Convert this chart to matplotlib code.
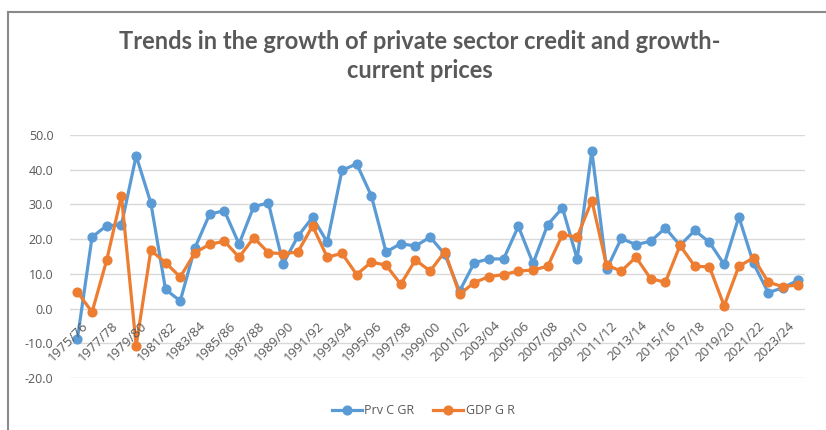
import matplotlib
matplotlib.use("Agg")
import matplotlib.pyplot as plt
from matplotlib.lines import Line2D

years = [f"{y}/{(y + 1) % 100:02d}" for y in range(1975, 2025)]

prv_c_gr = [-8.8, 20.6, 23.9, 24.1, 44.0, 30.4, 5.5, 2.2, 17.5, 27.2,
            28.2, 18.6, 29.4, 30.4, 12.9, 20.8, 26.3, 19.1, 39.8, 41.7,
            32.5, 16.3, 18.7, 18.0, 20.6, 15.6, 5.0, 13.2, 14.3, 14.3,
            23.7, 13.0, 24.2, 29.0, 14.3, 45.4, 11.3, 20.2, 18.4, 19.4,
            23.2, 18.2, 22.5, 19.1, 12.7, 26.4, 13.0, 4.6, 6.0, 8.1]

gdp_g_r = [4.8, -1.0, 14.0, 32.5, -10.7, 16.8, 13.2, 9.1, 16.1, 18.5,
           19.4, 14.8, 20.4, 16.1, 15.8, 16.3, 23.8, 14.8, 15.9, 9.8,
           13.4, 12.5, 7.0, 14.0, 10.8, 16.4, 4.1, 7.5, 9.2, 9.8,
           10.8, 11.1, 12.2, 21.3, 20.6, 31.1, 12.5, 10.8, 14.8, 8.6,
           7.6, 18.2, 12.2, 12.0, 0.8, 12.2, 14.6, 7.6, 6.3, 6.8]

blue = "#5B9BD5"
orange = "#ED7D31"
grey = "#595959"

fig = plt.figure(figsize=(8.26, 4.30), dpi=100)
ax = fig.add_axes([70 / 826, 52 / 430, 735 / 826, 243 / 430])

x = list(range(len(years)))
ax.plot(x, prv_c_gr, color=blue, lw=2.3, marker="o", ms=6.3, label="Prv C GR", zorder=3)
ax.plot(x, gdp_g_r, color=orange, lw=2.3, marker="o", ms=6.3, label="GDP G R", zorder=4)

ax.set_xlim(-0.5, len(years) - 0.5)
ax.set_ylim(-20, 50)
ax.set_yticks(range(-20, 51, 10))
ax.set_yticklabels([f"{v:.1f}" for v in range(-20, 51, 10)],
                   fontsize=9, color=grey, family="Open Sans")
ax.tick_params(axis="y", length=0, pad=12)
ax.set_xticks([])
ax.grid(axis="y", color="#d9d9d9", lw=1)
ax.set_axisbelow(True)
for s in ax.spines.values():
    s.set_visible(False)

# category labels sit just under the zero line, every second year
for i in range(0, len(years), 2):
    ax.text(i + 0.3, -3.0, years[i], rotation=45, rotation_mode="anchor",
            ha="right", va="top", fontsize=9.5, color=grey, family="Open Sans",
            zorder=5)

fig.text(420 / 826, 1 - 56 / 430, "Trends in the growth of private sector credit and growth-\ncurrent prices",
         ha="center", va="center", fontsize=17, fontweight="bold", color=grey,
         family="Lato", linespacing=1.3)

ax.legend(loc="center", bbox_to_anchor=(423 / 826, 19 / 430),
          bbox_transform=fig.transFigure, ncol=2, frameon=False,
          prop={"family": "Open Sans", "size": 9}, labelcolor=grey,
          handlelength=2.4, columnspacing=1.5, handletextpad=0.2)

# outer chart frame (left and top edges)
fig.add_artist(Line2D([8 / 826, 8 / 826], [0, 1 - 11.5 / 430], color="#8a8a8a", lw=1.5))
fig.add_artist(Line2D([8 / 826, 1], [1 - 11.5 / 430, 1 - 11.5 / 430], color="#8a8a8a", lw=1.5))

fig.savefig("out.png", dpi=100)
